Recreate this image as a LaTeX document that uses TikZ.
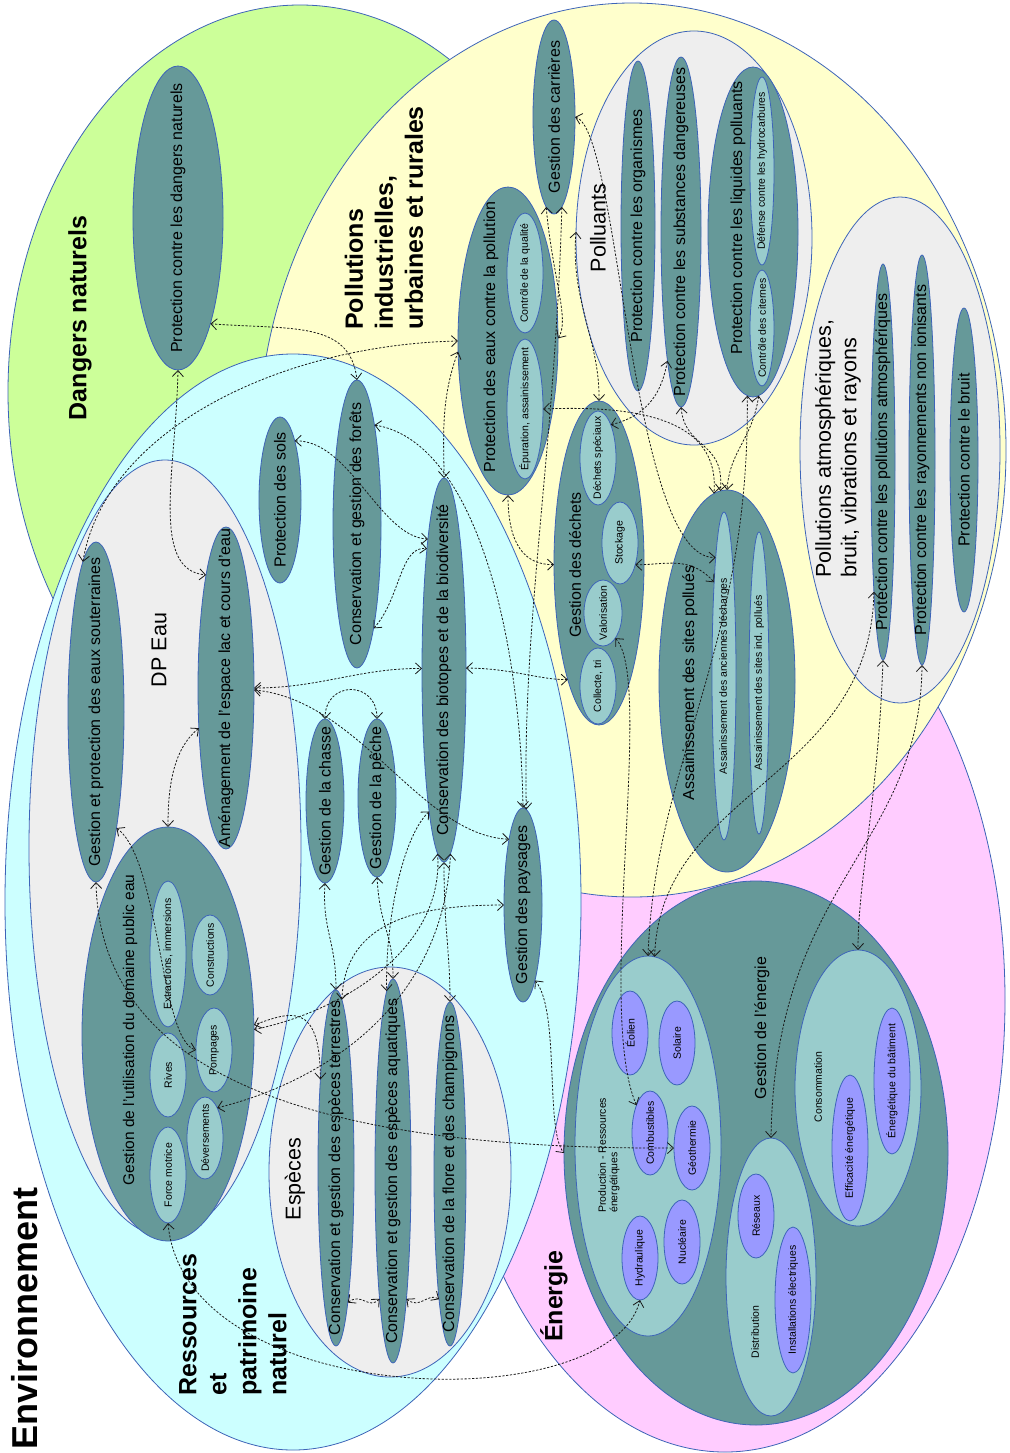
\documentclass[tikz,border=0pt]{standalone}
\usepackage{fontspec}
\setmainfont{Liberation Sans}
\usepackage{graphicx}
\usetikzlibrary{shapes.geometric,arrows.meta}
\definecolor{cGreen}{HTML}{CCFF99}
\definecolor{cYellow}{HTML}{FFFFCC}
\definecolor{cCyan}{HTML}{CCFFFF}
\definecolor{cPink}{HTML}{FFCCFF}
\definecolor{cGray}{HTML}{EEEEEE}
\definecolor{cDark}{HTML}{669999}
\definecolor{cLight}{HTML}{99CCCC}
\definecolor{cPurple}{HTML}{9999FF}
\definecolor{cEdge}{HTML}{3D64B8}
\newcommand{\vt}[1]{\rotatebox{90}{\makebox[0pt]{#1}}}
\newcommand{\fsz}[2]{\fontsize{#1}{#2}\selectfont}
\begin{document}
\begin{tikzpicture}[x=1pt,y=-1pt,
  ell/.style={ellipse, draw=cEdge, line width=0.8pt, inner sep=0pt, outer sep=0pt},
  grp/.style={ell, fill=cGray},
  dk/.style={ell, fill=cDark, font=\fsz{16}{18}},
  lt/.style={ell, fill=cLight, font=\fsz{10.5}{12}},
  pu/.style={ell, fill=cPurple, font=\fsz{10.5}{12}},
  sz/.style 2 args={minimum width=#1, minimum height=#2},
  lbl/.style={inner sep=0pt, text=black},
  vlbl/.style={lbl, rotate=90, align=left, anchor=west},
  conn/.style={draw=black!90, line width=0.8pt, dash pattern=on 2.2pt off 1.6pt,
    {Straight Barb[length=6pt,width=11pt]}-{Straight Barb[length=6pt,width=11pt]}},
]
\fill[white] (0,0) rectangle (1009,1453);
\useasboundingbox (0,0) rectangle (1009,1453);

% ---- regions
\node[ell, fill=cGreen, sz={584}{774}] (rDang) at (300,392) {};
\node[ell, fill=cPink, sz={560}{904}] (rEner) at (725,1000) {};
\node[ell, fill=cYellow, sz={748}{894}] (rPoll) at (632,450) {};
\node[ell, fill=cCyan, sz={576}{1096}] (rRes) at (293,902) {};

% ---- groups
\node[grp, sz={272}{776}] (dpeau) at (165,848) {};
\node[grp, sz={242}{410}] (esp) at (390,1172) {};
\node[grp, sz={236}{414}] (poll) at (694,238) {};
\node[grp, sz={200}{506}] (atm) at (900,450) {};

% ---- dangers naturels
\node[dk, sz={90}{304}] (dang) at (178,218) {\vt{Protection contre les dangers naturels}};

% ---- pollutions
\node[dk, sz={100}{308}] (prot) at (508,341) {};
\node[lt, sz={36}{120}] (ctrl) at (525,273) {\vt{Contrôle de la qualité}};
\node[lt, sz={36}{140}] (epur) at (525,409) {\vt{Épuration, assainissement}};
\node[dk, sz={42}{194}] (carr) at (554,117) {\vt{Gestion des carrières}};
\node[dk, sz={34}{330}] (org) at (638,226) {\vt{Protection contre les organismes}};
\node[dk, sz={40}{350}] (subst) at (681,232) {\vt{Protection contre les substances dangereuses}};
\node[dk, sz={90}{330}] (liq) at (753,232) {};
\node[lt, sz={24}{188}] (hydroc) at (762,171) {\vt{Défense contre les hydrocarbures}};
\node[lt, sz={24}{116}] (citer) at (762,328) {\vt{Contrôle des citernes}};
\node[dk, sz={24}{396}] (patm) at (883,462) {\vt{Protection contre les pollutions atmosphériques}};
\node[dk, sz={26}{410}] (pray) at (922,460) {\vt{Protection contre les rayonnements non ionisants}};
\node[dk, sz={28}{304}] (pbruit) at (964,460) {\vt{Protection contre le bruit}};
\node[dk, sz={90}{324}] (dech) at (599,563) {};
\node[lt, sz={36}{94}] (dspec) at (598,458) {\vt{Déchets spéciaux}};
\node[lt, sz={36}{82}] (stock) at (620,543) {\vt{Stockage}};
\node[lt, sz={38}{66}] (valo) at (603,613) {\vt{Valorisation}};
\node[lt, sz={36}{76}] (coll) at (598,686) {\vt{Collecte, tri}};
\node[dk, sz={136}{382}] (assain) at (727,681) {};
\node[lt, sz={24}{328}] (ancd) at (724,676) {\vt{Assainissement des anciennes décharges}};
\node[lt, sz={20}{302}] (indp) at (759,683) {\vt{Assainissement des sites ind. pollués}};

% ---- ressources
\node[dk, sz={56}{340}] (sout) at (96,712) {\vt{Gestion et protection des eaux souterraines}};
\node[dk, sz={56}{322}] (amen) at (226,688) {\vt{Aménagement de l'espace lac et cours d'eau}};
\node[dk, sz={172}{414}] (dom) at (168,1034) {};
\node[lt, sz={36}{146}] (extr) at (168,954) {\vt{Extractions, immersions}};
\node[lt, sz={36}{80}] (constr) at (210,955) {\vt{Constructions}};
\node[lt, sz={36}{84}] (rives) at (168,1075) {\vt{Rives}};
\node[lt, sz={36}{84}] (pomp) at (214,1050) {\vt{Pompages}};
\node[lt, sz={36}{82}] (dever) at (205,1138) {\vt{Déversements}};
\node[lt, sz={36}{96}] (force) at (168,1175) {\vt{Force motrice}};
\node[dk, sz={42}{166}] (sols) at (280,500) {\vt{Protection des sols}};
\node[dk, sz={48}{288}] (forets) at (357,524) {\vt{Conservation et gestion des forêts}};
\node[dk, sz={44}{384}] (bio) at (444,670) {\vt{Conservation des biotopes et de la biodiversité}};
\node[dk, sz={38}{164}] (chasse) at (325,801) {\vt{Gestion de la chasse}};
\node[dk, sz={38}{158}] (peche) at (377,798) {\vt{Gestion de la pêche}};
\node[dk, sz={38}{194}] (pays) at (523,905) {\vt{Gestion des paysages}};
\node[dk, sz={36}{356}] (terr) at (336,1168) {\vt{Conservation et gestion des espèces terrestres}};
\node[dk, sz={36}{384}] (aqua) at (393,1171) {\vt{Conservation et gestion des espèces aquatiques}};
\node[dk, sz={32}{344}] (flore) at (450,1174) {\vt{Conservation de la flore et des champignons}};

% ---- energie
\node[dk, sz={384}{544}] (gen) at (756,1153) {};
\node[lt, sz={146}{380}] (prod) at (648,1146) {};
\node[pu, sz={36}{84}] (eol) at (630,1033) {\vt{Éolien}};
\node[pu, sz={36}{84}] (sol) at (677,1043) {\vt{Solaire}};
\node[pu, sz={36}{84}] (comb) at (650,1133) {\vt{Combustibles}};
\node[pu, sz={36}{84}] (geo) at (692,1148) {\vt{Géothermie}};
\node[pu, sz={36}{84}] (nuc) at (682,1242) {\vt{Nucléaire}};
\node[pu, sz={36}{84}] (hyd) at (640,1258) {\vt{Hydraulique}};
\node[lt, sz={90}{278}] (dist) at (771,1277) {};
\node[pu, sz={36}{84}] (res) at (756,1216) {\vt{Réseaux}};
\node[pu, sz={36}{146}] (inst) at (793,1300) {\vt{Installations électriques}};
\node[lt, sz={126}{276}] (cons) at (858,1088) {};
\node[pu, sz={36}{146}] (eff) at (850,1148) {\vt{Efficacité énergétique}};
\node[pu, sz={36}{146}] (bat) at (892,1081) {\vt{Énergétique du bâtiment}};

% ---- labels
\node[lbl, font=\fsz{25}{30}\bfseries] (tDang) at (80,318) {\vt{Dangers naturels}};
\node[vlbl, font=\fsz{25}{30}\bfseries] (tPoll) at (384,330) {Pollutions\\industrielles,\\urbaines et rurales};
\node[vlbl, font=\fsz{25}{30}\bfseries] (tRes) at (233,1396) {Ressources\\et\\patrimoine\\naturel};
\node[vlbl, font=\fsz{36}{40}\bfseries] (tEnv) at (25,1450) {Environnement};
\node[lbl, font=\fsz{25}{30}\bfseries] (tEner) at (554,1296) {\vt{Énergie}};
\node[lbl, font=\fsz{21.5}{25}] (tPolluants) at (598,228) {\vt{Polluants}};
\node[vlbl, font=\fsz{21.5}{25.5}] (tAtm) at (838,578) {Pollutions atmosphériques,\\bruit, vibrations et rayons};
\node[lbl, font=\fsz{21.5}{25}] (tDP) at (159,650) {\vt{DP Eau}};
\node[lbl, font=\fsz{21.5}{25}] (tEsp) at (295,1179) {\vt{Espèces}};
\node[lbl, font=\fsz{16}{18}] (tProt) at (491,337) {\vt{Protection des eaux contre la pollution}};
\node[lbl, font=\fsz{16}{18}] (tLiq) at (738,218) {\vt{Protection contre les liquides polluants}};
\node[lbl, font=\fsz{16}{18}] (tDech) at (575,565) {\vt{Gestion des déchets}};
\node[lbl, font=\fsz{16}{18}] (tAssain) at (690,683) {\vt{Assainissement des sites pollués}};
\node[lbl, font=\fsz{15.5}{18}] (tDom) at (130,1030) {\vt{Gestion de l'utilisation du domaine public eau}};
\node[lbl, font=\fsz{16}{18}] (tGen) at (762,1028) {\vt{Gestion de l'énergie}};
\node[vlbl, font=\fsz{10.5}{11.5}] (tProd) at (609,1213) {Production - Ressources\\énergétiques};
\node[lbl, font=\fsz{10.5}{12}] (tDist) at (755,1332) {\vt{Distribution}};
\node[lbl, font=\fsz{10.5}{12}] (tCons) at (818,1087) {\vt{Consommation}};

% ---- connectors
\draw[conn] (dang.270) .. controls (176,470) and (150,570) .. (amen.100);
\draw[conn] (dang.287) .. controls (290,330) and (350,320) .. (forets.90);
\draw[conn] (sout.95) .. controls (105,430) and (280,345) .. (prot.180);
\draw[conn] (prot.192) .. controls (440,400) and (444,440) .. (bio.90);
\draw[conn] (sols.76) .. controls (350,440) and (380,537) .. (bio.97);
\draw[conn] (forets.279) .. controls (400,600) and (400,545) .. (bio.98);
\draw[conn] (forets.80) .. controls (470,440) and (520,620) .. (pays.90);
\draw[conn] (prot.270) .. controls (508,545) and (525,565) .. (dech.182);
\draw[conn] (bio.5) .. controls (510,668) and (540,680) .. (dech.255);
\draw[conn] (amen.0) .. controls (320,688) and (360,668) .. (bio.176);
\draw[conn] (amen.356) .. controls (360,700) and (420,835) .. (pays.102);
\draw[conn] (chasse.90) .. controls (325,680) and (377,680) .. (peche.90);
\draw[conn] (chasse.270) .. controls (322,930) and (336,940) .. (terr.90);
\draw[conn] (peche.270) .. controls (380,930) and (393,930) .. (aqua.90);
\draw[conn] (bio.270) .. controls (444,930) and (450,950) .. (flore.90);
\draw[conn] (terr.88) .. controls (345,920) and (420,905) .. (pays.180);
\draw[conn] (dom.3) .. controls (340,1012) and (444,950) .. (bio.268);
\draw[conn] (terr.100) .. controls (320,1000) and (290,1012) .. (dom.6);
\draw[conn] (bio.264) .. controls (400,840) and (385,930) .. (aqua.92);
\draw[conn] (dever.68) .. controls (330,1080) and (444,1000) .. (bio.272);
\draw[conn] (sout.270) .. controls (100,1060) and (280,1150) .. (geo.180);
\draw[conn] (sout.280) .. controls (160,860) and (160,1040) .. (pomp.180);
\draw[conn] (amen.236) .. controls (172,750) and (168,790) .. (dom.90);
\draw[conn] (force.270) .. controls (185,1410) and (610,1420) .. (hyd.270);
\draw[conn] (pays.279) .. controls (560,1010) and (545,1130) .. (gen.180);
\draw[conn] (valo.296) .. controls (655,680) and (595,1010) .. (comb.116);
\draw[conn] (liq.268) .. controls (750,650) and (655,760) .. (prod.90);
\draw[conn] (liq.272) .. controls (752,440) and (730,450) .. (assain.90);
\draw[conn] (subst.270) .. controls (685,450) and (725,440) .. (assain.92);
\draw[conn] (epur.0) .. controls (640,405) and (720,420) .. (assain.94);
\draw[conn] (dspec.69) .. controls (650,415) and (662,390) .. (subst.264);
\draw[conn] (carr.0) .. controls (620,130) and (630,560) .. (ancd.94);
\draw[conn] (stock.305) .. controls (665,565) and (690,555) .. (ancd.96);
\draw[conn] (carr.265) .. controls (553,280) and (570,320) .. (prot.3);
\draw[conn] (poll.177) .. controls (570,300) and (600,340) .. (dech.90);
\draw[conn] (carr.275) .. controls (555,450) and (522,620) .. (pays.88);
\draw[conn] (patm.270) .. controls (878,800) and (858,880) .. (cons.90);
\draw[conn] (patm.266) .. controls (870,780) and (660,790) .. (prod.88);
\draw[conn] (pray.270) .. controls (920,850) and (775,880) .. (dist.90);
\draw[conn] (aqua.276) .. controls (420,1310) and (428,1292) .. (flore.265);
\draw[conn] (terr.275) .. controls (362,1292) and (368,1310) .. (aqua.264);
\end{tikzpicture}
\end{document}
